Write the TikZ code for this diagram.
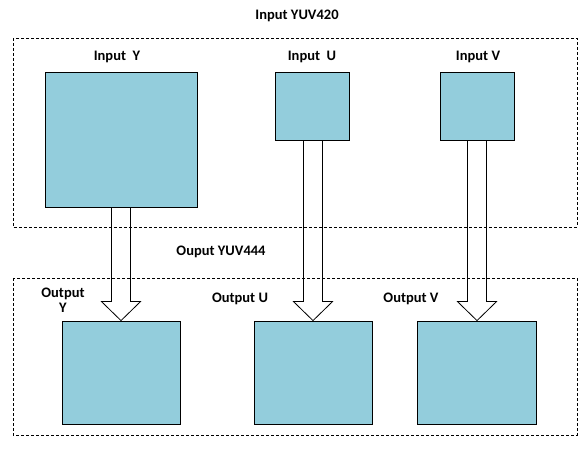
\documentclass[tikz,border=0pt]{standalone}
\usepackage{fontspec}
\setmainfont{Carlito}
\usetikzlibrary{calc}

\definecolor{planefill}{RGB}{147,205,220}

\tikzset{
  plane/.style={draw, line width=0.8pt, fill=planefill, inner sep=0pt},
  frame/.style={draw, line width=0.7pt, dash pattern=on 3pt off 2pt},
  lbl/.style={font=\fontsize{14.5}{15}\selectfont\bfseries, inner sep=0pt, align=center},
}

% hollow arrow from one plane down to another
\newcommand{\fatarrow}[2]{
  \draw[line width=0.8pt, line join=miter]
    ($(#2.north |- #1.south)+(-9.5,0)$) -- ($(#2.north)+(-9.5,-19)$) -- ++(-10,0)
    -- (#2.north) -- ++(19.5,-19) -- ++(-10,0) -- ($(#2.north |- #1.south)+(9.5,0)$);
}

\begin{document}
\begin{tikzpicture}[x=1pt, y=-1pt]
  \useasboundingbox (0,0) rectangle (584,449);
  % dashed groups
  \draw[frame] (13,38) rectangle (577,227);
  \draw[frame] (13,278) rectangle (577,435);
  % input planes
  \node[plane, minimum width=152pt, minimum height=135pt] (iny) at (121,139.5) {};
  \node[plane, minimum width=74pt, minimum height=68pt] (inu) at (312,106) {};
  \node[plane, minimum width=74pt, minimum height=68pt] (inv) at (477,106) {};
  % output planes
  \node[plane, minimum width=118pt, minimum height=103pt] (outy) at (121,372.5) {};
  \node[plane, minimum width=118pt, minimum height=103pt] (outu) at (313,372.5) {};
  \node[plane, minimum width=119pt, minimum height=103pt] (outv) at (477,372.5) {};
  % labels
  \node[lbl] (tin) at (297,16) {Input YUV420};
  \node[lbl] (liny) at (117,57) {Input\ \ Y};
  \node[lbl] (linu) at (312,57) {Input\ \ U};
  \node[lbl] (linv) at (478,57) {Input V};
  \node[lbl] (tout) at (221,252) {Ouput YUV444};
  \node[lbl] (louty) at (63,300) {Output\\Y};
  \node[lbl] (loutu) at (240,299) {Output U};
  \node[lbl] (loutv) at (411,299) {Output V};
  % arrows
  \fatarrow{iny}{outy}
  \fatarrow{inu}{outu}
  \fatarrow{inv}{outv}
\end{tikzpicture}
\end{document}
